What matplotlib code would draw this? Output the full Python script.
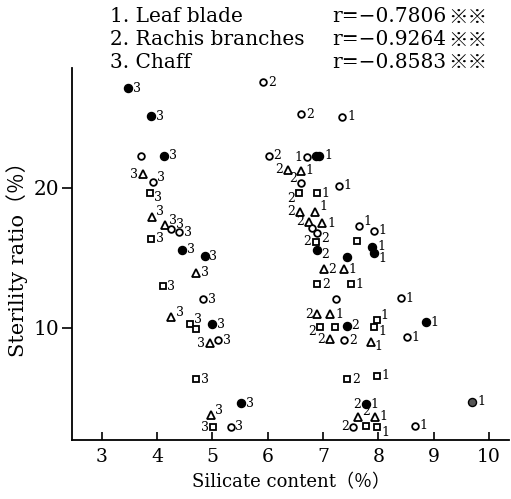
import numpy as np
import matplotlib.pyplot as plt

# silicate content (%) and sterility ratio (%)
# kind: f = filled circle, o = open circle, t = triangle, s = square, g = grey circle
# lab: organ number (1 leaf blade, 2 rachis branches, 3 chaff), "a/b" = left a, right b
chaff_x = [3.48, 3.89, 3.71, 4.13, 3.75, 3.93, 3.87, 3.91, 4.14, 4.26, 4.40, 3.90, 4.46, 4.86,
           4.70, 4.10, 4.83, 4.26, 4.60, 4.70, 4.99, 4.95, 5.10, 4.70, 5.52, 4.98, 5.02, 5.33]
chaff_y = [27.1, 25.1, 22.27, 22.27, 20.96, 20.39, 19.64, 17.93, 17.34, 17.03, 16.81, 16.34, 15.55, 15.12,
           13.93, 12.98, 12.03, 10.74, 10.26, 9.89, 10.26, 8.89, 9.12, 6.31, 4.60, 3.76, 2.89, 2.93]
chaff_kind = ['f', 'f', 'o', 'f', 't', 'o', 's', 't', 't', 'o', 'o', 's', 'f', 'f',
              't', 's', 'o', 't', 's', 's', 'f', 't', 'o', 's', 'f', 't', 's', 'o']
chaff_lab = ['3', '3', '', '3', '3', '3', '3', '3', '3', '3', '3', '3', '3', '3',
             '3', '3', '3', '3', '3', '', '3', '3', '3', '3', '3', '3', '3', '3']
chaff_side = ['r', 'r', '', 'r', 'l', 'ur', 'dr', 'ur', 'ur', 'ur', 'r', 'r', 'r', 'r',
              'r', 'r', 'r', 'ur', 'ur', '', 'r', 'l', 'r', 'r', 'r', 'ur', 'l', 'r']

lr_x = [5.92, 6.60, 7.35, 6.02, 6.71, 6.87, 6.93, 6.36, 6.60, 6.60, 7.29, 6.57, 6.89, 6.59,
        6.86, 6.75, 6.99, 6.80, 6.89, 6.87, 6.90, 7.44, 7.65, 7.92, 7.62, 7.89, 7.92, 7.01,
        7.38, 6.90, 7.50, 7.23, 8.41, 6.90, 7.13, 6.95, 7.22, 7.43, 7.97, 7.92, 8.86, 7.13,
        7.38, 7.86, 8.51, 7.44, 7.97, 7.77, 9.70, 7.64, 7.94, 7.55, 7.77, 7.98, 8.66]
lr_y = [27.53, 25.24, 25.07, 22.27, 22.17, 22.27, 22.27, 21.26, 21.21, 20.31, 20.14, 19.6, 19.6, 18.29,
        18.29, 17.57, 17.46, 17.14, 16.74, 16.14, 15.55, 15.07, 17.26, 16.93, 16.21, 15.79, 15.31, 14.17,
        14.17, 13.12, 13.12, 12.03, 12.1, 10.98, 10.98, 10.07, 10.03, 10.14, 10.55, 10.07, 10.39, 9.17,
        9.12, 9.0, 9.31, 6.31, 6.57, 4.55, 4.71, 3.6, 3.64, 2.93, 3.0, 2.89, 3.0]
lr_kind = ['o', 'o', 'o', 'o', 'o', 'f', 'f', 't', 't', 'o', 'o', 's', 's', 't',
           't', 't', 't', 'o', 'o', 's', 'f', 'f', 'o', 'o', 's', 'f', 'f', 't',
           't', 's', 's', 'o', 'o', 't', 't', 's', 's', 'f', 's', 's', 'f', 't',
           'o', 't', 'o', 's', 's', 'f', 'g', 't', 't', 'o', 's', 's', 'o']
lr_lab = ['2', '2', '1', '2', '1', '', '1', '2', '1', '2', '1', '2', '1', '2',
          '1', '2', '1', '', '2', '2', '2', '', '1', '1', '', '1', '1', '2',
          '1', '2', '1', '', '1', '2', '1', '2', '', '2', '1', '1', '1', '2',
          '2', '1', '1', '2', '1', '2/1', '1', '', '2/1', '2', '', '1', '1']
lr_side = ['r', 'r', 'r', 'r', 'l', '', 'r', 'l', 'r', 'ul', 'r', 'dl', 'r', 'l',
           'ur', 'l', 'r', '', 'dr', 'l', 'dr', '', 'ur', 'r', '', 'r', 'dr', 'r',
           'r', 'r', 'r', '', 'r', 'l', 'r', 'dl', '', 'r', 'ur', 'dr', 'r', 'l',
           'r', 'dr', 'r', 'r', 'r', 'lr', 'r', '', 'ulr', 'l', '', 'dr', 'r']

organs = ['1. Leaf blade', '2. Rachis branches', '3. Chaff']
r_vals = ['r=−0.7806', 'r=−0.9264', 'r=−0.8583']

xs = chaff_x + lr_x
ys = chaff_y + lr_y
kinds = chaff_kind + lr_kind
labs = chaff_lab + lr_lab
sides = chaff_side + lr_side

serif = 'DejaVu Serif'
fig = plt.figure(figsize=(5.11, 4.99), dpi=100)
ax = fig.add_axes([0.141, 0.118, 0.855, 0.746])

styles = {
    'f': dict(marker='o', ms=5.8, mfc='black', mec='black'),
    'g': dict(marker='o', ms=5.8, mfc='#555555', mec='black', mew=1.0),
    'o': dict(marker='o', ms=4.8, mfc='white', mec='black', mew=1.3),
    't': dict(marker='^', ms=5.6, mfc='white', mec='black', mew=1.3),
    's': dict(marker='s', ms=4.8, mfc='white', mec='black', mew=1.3),
}
offs = {'r': (3.5, 0), 'l': (-3.5, 0), 'ur': (3, 3.5), 'dr': (3, -3.5),
        'ul': (-3, 3.5), 'dl': (-3, -3.5)}
fs_pt = 9

for x, y, k, lab, sd in zip(xs, ys, kinds, labs, sides):
    ax.plot(x, y, ls='none', **styles[k])
    if not lab:
        continue
    if '/' in lab:
        left, right = lab.split('/')
        dy = 3.5 if sd == 'ulr' else 0
        ax.annotate(left, (x, y), xytext=(-3.5, dy), textcoords='offset points',
                    ha='right', va='center', fontsize=fs_pt, family=serif)
        ax.annotate(right, (x, y), xytext=(3.5, 0), textcoords='offset points',
                    ha='left', va='center', fontsize=fs_pt, family=serif)
        continue
    dx, dy = offs[sd]
    ax.annotate(lab, (x, y), xytext=(dx, dy), textcoords='offset points',
                ha='left' if dx > 0 else 'right', va='center', fontsize=fs_pt, family=serif)

ax.set_xlim(2.465, 10.36)
ax.set_ylim(1.98, 28.55)
ax.set_xticks(range(3, 11))
ax.set_yticks([10, 20])
ax.tick_params(axis='x', direction='in', length=6, width=1.2, labelsize=13.5, pad=6)
ax.tick_params(axis='y', direction='out', length=7, width=1.2, labelsize=14.5, pad=2)
for t in ax.get_xticklabels() + ax.get_yticklabels():
    t.set_family(serif)
for s in ['top', 'right']:
    ax.spines[s].set_visible(False)
ax.spines['left'].set_linewidth(1.3)
ax.spines['bottom'].set_linewidth(1.3)

ax.set_xlabel('Silicate content（％）', fontsize=13, family=[serif, 'Noto Sans CJK JP'], labelpad=5)
ax.set_ylabel('Sterility ratio（％）', fontsize=15, family=[serif, 'Noto Sans CJK JP'], labelpad=4)

for i in range(3):
    yy = 0.966 - i * 0.046
    fig.text(0.215, yy, organs[i], fontsize=14.5, family=serif, va='center')
    fig.text(0.650, yy, r_vals[i], fontsize=14.5, family=serif, va='center')
    fig.text(0.877, yy, '※※', fontsize=14, family=['Noto Sans CJK JP'], va='center',
             fontweight='bold')

fig.savefig('out.png', dpi=100)
